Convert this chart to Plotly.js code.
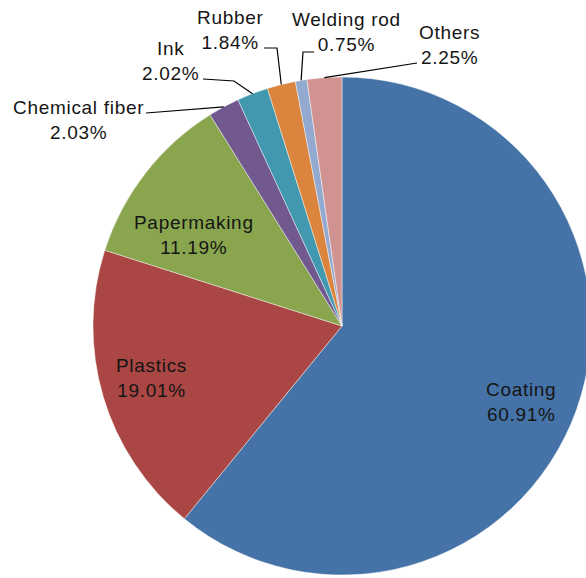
<!DOCTYPE html>
<html>
<head>
<meta charset="utf-8">
<script src="https://cdn.plot.ly/plotly-3.0.1.min.js"></script>
<style>
html,body{margin:0;padding:0;overflow:hidden;background:#fff;}
#chart{width:600px;height:578px;}
</style>
</head>
<body>
<div id="chart"></div>
<script>
// ---- data ----
const categories = ["Coating","Plastics","Papermaking","Chemical fiber","Ink","Rubber","Welding rod","Others"];
const shares = [60.91, 19.01, 11.19, 2.03, 2.02, 1.84, 0.75, 2.25];
const colors = ["#4572A7","#AA4643","#89A54E","#71588F","#4198AF","#DB843D","#93A9CF","#D19392"];

// ---- layout / style ----
const W = 600, H = 578;
const cx = 342, cy = 326, R = 249;
// label block centers (px) and optional elbow points for leader lines
const labelPos = [
  {x:521, y:402}, {x:151, y:378}, {x:194, y:235},
  {x:78,  y:120, from:[146,113]},
  {x:170, y:61,  from:[203,79], elbow:[234,81]},
  {x:230, y:30,  from:[264,48], elbow:[277,48]},
  {x:346, y:32,  from:[314,52], elbow:[303,52]},
  {x:449, y:45,  from:[417,63]}
];

const px = (x) => x / W;
const py = (y) => 1 - y / H;
const sp = (s) => '<span style="letter-spacing:0.7px">' + s + '</span>';

const total = shares.reduce((a,b)=>a+b,0);
let cum = 0;
const annotations = [];
const shapes = [];
shares.forEach((v,i) => {
  const mid = (cum + v/2) / total;
  cum += v;
  const th = mid * 2 * Math.PI;
  const ex = cx + R * Math.sin(th);
  const ey = cy - R * Math.cos(th);
  const lp = labelPos[i];
  annotations.push({
    xref:'paper', yref:'paper', x:px(lp.x), y:py(lp.y),
    xanchor:'center', yanchor:'middle', showarrow:false, align:'center',
    text: sp(categories[i]) + '<br>' + sp(v.toFixed(2) + '%'),
    font:{family:'"Liberation Sans", Arial, sans-serif', size:19, color:'#151515'}
  });
  if (lp.from) {
    const pts = [lp.from];
    if (lp.elbow) pts.push(lp.elbow);
    pts.push([ex, ey]);
    const path = pts.map((p,k)=> (k?'L ':'M ') + px(p[0]) + ' ' + py(p[1])).join(' ');
    shapes.push({type:'path', xref:'paper', yref:'paper', path:path,
      line:{color:'#000', width:1.2}});
  }
});

const trace = {
  type:'pie',
  labels: categories,
  values: shares,
  sort:false,
  direction:'clockwise',
  rotation:0,
  textinfo:'none',
  hoverinfo:'none',
  marker:{colors:colors, line:{color:'rgba(255,255,255,0.55)', width:0.8}},
  domain:{x:[px(cx-R), px(cx+R)], y:[py(cy+R), py(cy-R)]}
};

const layout = {
  width:W, height:H,
  margin:{l:0,r:0,t:0,b:0},
  showlegend:false,
  paper_bgcolor:'#fff',
  annotations: annotations,
  shapes: shapes
};

Plotly.newPlot('chart', [trace], layout, {displayModeBar:false, staticPlot:true});
</script>
</body>
</html>
